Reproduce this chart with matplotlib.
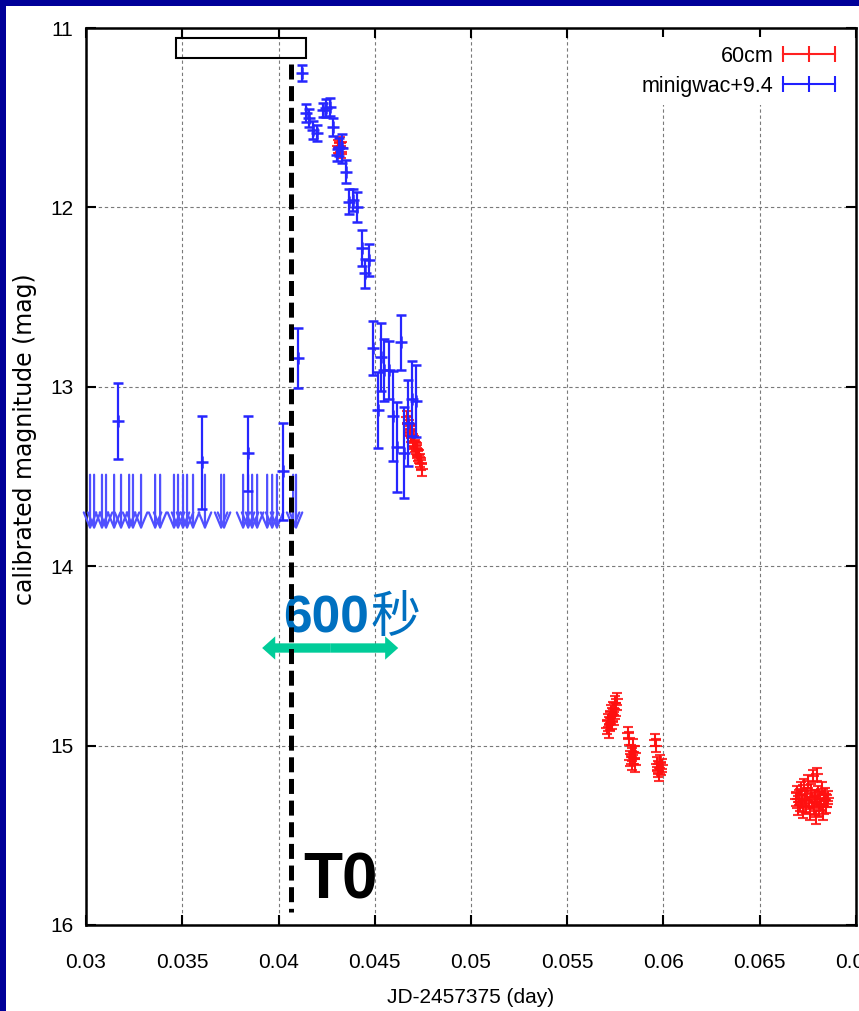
import matplotlib.pyplot as plt
from matplotlib.patches import Rectangle
from matplotlib.lines import Line2D
import numpy as np

# ---- data ----
# minigwac detections (x in JD-2457375, magnitude, error)
blue_x = [0.03166, 0.03601, 0.03839, 0.04022, 0.04102, 0.04120,
          0.041435, 0.041606, 0.041814, 0.041990, 0.042303, 0.042474, 0.042682,
          0.042853, 0.043062, 0.043166, 0.043285, 0.043493, 0.043685, 0.043893,
          0.044070, 0.044330, 0.044501, 0.044709,
          0.044927, 0.045156, 0.045317, 0.045489, 0.045764, 0.045972, 0.046149,
          0.046357, 0.046543, 0.046752, 0.046960, 0.047152]
blue_y = [13.19, 13.42, 13.37, 13.47, 12.84, 11.25,
          11.476, 11.503, 11.569, 11.587, 11.457, 11.446, 11.439,
          11.550, 11.708, 11.662, 11.671, 11.800, 11.968, 11.959,
          11.999, 12.228, 12.367, 12.293,
          12.785, 13.129, 12.832, 12.906, 12.906, 13.163, 13.334,
          12.752, 13.367, 13.200, 13.066, 13.080]
blue_e = [0.21, 0.26, 0.21, 0.27, 0.165, 0.045,
          0.05, 0.05, 0.05, 0.045, 0.04, 0.05, 0.05,
          0.05, 0.035, 0.05, 0.08, 0.065, 0.07, 0.06,
          0.085, 0.10, 0.08, 0.09,
          0.15, 0.21, 0.19, 0.175, 0.16, 0.25, 0.25,
          0.155, 0.255, 0.24, 0.21, 0.20]

# minigwac upper limits
lim_x = [0.03021, 0.03042, 0.03083, 0.03104, 0.03146, 0.03182, 0.03224, 0.03244,
         0.03286, 0.03359, 0.03385, 0.03457, 0.03478, 0.03504, 0.03525, 0.03556,
         0.03618, 0.03702, 0.03717, 0.03816, 0.03842, 0.03863, 0.03889, 0.03941,
         0.03967, 0.03992, 0.04076, 0.04091]
lim_top = 13.49
lim_tip = 13.80

# 60cm telescope
red_a_x = [0.04310, 0.04316, 0.04320, 0.04324, 0.04330]
red_a_y = [11.66, 11.67, 11.64, 11.69, 11.67]
red_b_x = [0.04668, 0.04672, 0.04677, 0.04681, 0.04686, 0.04690, 0.04695, 0.04699, 0.04704,
           0.04709, 0.04713, 0.04718, 0.04722, 0.04727, 0.04731, 0.04736, 0.04740, 0.04745]
red_b_y = [13.17, 13.20, 13.22, 13.24, 13.25, 13.27, 13.28, 13.30, 13.31,
           13.33, 13.34, 13.35, 13.36, 13.38, 13.39, 13.41, 13.43, 13.46]
red_c_x = [0.05708, 0.05712, 0.05716, 0.05720, 0.05724, 0.05728, 0.05732, 0.05736,
           0.05740, 0.05744, 0.05748, 0.05752, 0.05756]
red_c_y = [14.90, 14.86, 14.92, 14.84, 14.88, 14.81, 14.87, 14.83, 14.79, 14.85, 14.76, 14.80, 14.74]
red_d_x = [0.05818, 0.05822, 0.05826, 0.05830, 0.05834, 0.05838, 0.05842, 0.05846, 0.05850, 0.05854]
red_d_y = [14.93, 14.96, 15.08, 15.03, 15.10, 15.05, 15.00, 15.07, 15.11, 15.04]
red_e_x = [0.05958, 0.05962, 0.05966, 0.05970, 0.05974, 0.05978, 0.05982, 0.05986, 0.05990]
red_e_y = [14.97, 15.00, 15.10, 15.14, 15.12, 15.16, 15.09, 15.13, 15.11]
red_f_x = [0.06690, 0.06695, 0.06700, 0.06705, 0.06710, 0.06715, 0.06720, 0.06725, 0.06730,
           0.06735, 0.06740, 0.06745, 0.06750, 0.06755, 0.06760, 0.06765, 0.06770, 0.06775,
           0.06780, 0.06785, 0.06790, 0.06795, 0.06800, 0.06805, 0.06810, 0.06815, 0.06820,
           0.06825, 0.06830, 0.06835, 0.06840, 0.06845, 0.06850, 0.06855]
red_f_y = [15.30, 15.26, 15.35, 15.28, 15.33, 15.24, 15.31, 15.37, 15.22,
           15.29, 15.34, 15.27, 15.20, 15.32, 15.38, 15.25, 15.30, 15.17,
           15.35, 15.28, 15.40, 15.16, 15.31, 15.26, 15.36, 15.29, 15.33,
           15.24, 15.38, 15.30, 15.27, 15.34, 15.31, 15.29]
red_err = 0.035

x_ticks = [0.03, 0.035, 0.04, 0.045, 0.05, 0.055, 0.06, 0.065, 0.07]
x_labels = ['0.03', '0.035', '0.04', '0.045', '0.05', '0.055', '0.06', '0.065', '0.07']
y_ticks = [11, 12, 13, 14, 15, 16]
y_labels = ['11', '12', '13', '14', '15', '16']

t0 = 0.04066
box = (0.034678, 11.056, 0.041435, 11.167)
arrow_x = (0.03915, 0.04622)
arrow_y = 14.456

narrow = ['Liberation Sans Narrow', 'Liberation Sans', 'DejaVu Sans']

fig = plt.figure(figsize=(8.59, 10.11), dpi=100)
fig.patch.set_facecolor('#000099')
fig.add_artist(Rectangle((6 / 859, 0), 1, 1 - 6 / 1011, transform=fig.transFigure,
                         facecolor='white', edgecolor='none', zorder=-5))
ax = fig.add_axes([86 / 859, 1 - 925 / 1011, 770 / 859, 897 / 1011])

red_x = red_a_x + red_b_x + red_c_x + red_d_x + red_e_x + red_f_x
red_y = red_a_y + red_b_y + red_c_y + red_d_y + red_e_y + red_f_y
ax.errorbar(red_x, red_y, yerr=red_err, fmt='+', color='#ff1010', ms=8, mew=1.5,
            elinewidth=1.4, capsize=3.8, capthick=1.4, alpha=0.85, zorder=3)
ax.errorbar(blue_x, blue_y, yerr=blue_e, fmt='+', color='#2626ff', ms=8, mew=1.8,
            elinewidth=1.6, capsize=3.6, capthick=1.8, zorder=4)

for x in lim_x:
    ax.annotate('', xy=(x, lim_tip), xytext=(x, lim_top),
                arrowprops=dict(arrowstyle='->,head_length=0.6,head_width=0.25',
                                color='#5050ff', lw=1.6, shrinkA=0, shrinkB=0,
                                mutation_scale=18), zorder=3)

ax.add_patch(Rectangle((box[0], box[1]), box[2] - box[0], box[3] - box[1],
                       fill=False, edgecolor='black', lw=1.5, zorder=5))

# green double arrow
mid = (arrow_x[0] + arrow_x[1]) / 2
half = (arrow_x[1] - arrow_x[0]) / 2
for d in (-half, half):
    ax.arrow(mid, arrow_y, d, 0, width=0.052, head_width=0.13, head_length=0.00068,
             length_includes_head=True, color='#00cc99', lw=0, zorder=6)

ax.text(0.04024, 14.367, '600', fontsize=37, fontweight='bold', color='#0070c0',
        family=['Liberation Sans', 'DejaVu Sans'], va='baseline', ha='left', zorder=6)
ax.text(0.04476, 14.367, '秒', fontsize=36, color='#0070c0',
        family=['Noto Sans CJK SC', 'DejaVu Sans'], va='baseline', ha='left', zorder=6)
ax.text(0.04128, 15.85, 'T0', fontsize=46, fontweight='bold', color='black',
        family=['Liberation Sans', 'DejaVu Sans'], va='baseline', ha='left', zorder=6)

ax.vlines(t0, 11.2, 15.93, colors='black', lw=3.6, linestyles=(0, (3.0, 1.33)), zorder=8)

ax.set_xlim(0.03, 0.07)
ax.set_ylim(16, 11)
ax.set_xticks(x_ticks)
ax.set_xticklabels(x_labels, family=narrow, fontsize=15)
ax.set_yticks(y_ticks)
ax.set_yticklabels(y_labels, family=narrow, fontsize=15)
ax.tick_params(axis='both', direction='in', length=7, width=1.5, top=True, right=True)
ax.tick_params(axis='x', pad=20)
ax.tick_params(axis='y', pad=9)
ax.grid(True, color='#7a7a7a', lw=0.8, linestyle=(0, (3, 2.5)))
ax.set_axisbelow(True)
for s in ax.spines.values():
    s.set_linewidth(1.8)

ax.set_xlabel('JD-2457375 (day)', family=narrow, fontsize=15, labelpad=12)
ax.set_ylabel('calibrated magnitude (mag)', family='DejaVu Sans', fontsize=17)
ax.yaxis.set_label_coords(-0.0636, 0.542)

h_red = Line2D([], [], color='#ff2020', marker='|', ms=11, mew=1.5, lw=1.5)
h_blue = Line2D([], [], color='#2020ff', marker='|', ms=11, mew=1.5, lw=1.5)
ax.legend([h_red, h_blue], ['60cm', 'minigwac+9.4'], loc='upper right',
          bbox_to_anchor=(0.992, 0.99), numpoints=3, markerfirst=False,
          handlelength=3.0, handletextpad=0.15, labelspacing=0.42, borderpad=0.4,
          borderaxespad=0, frameon=True, fancybox=False, facecolor='white',
          edgecolor='none', framealpha=1, prop={'family': narrow, 'size': 15.5})

fig.savefig('out.png', dpi=100, facecolor=fig.get_facecolor())
